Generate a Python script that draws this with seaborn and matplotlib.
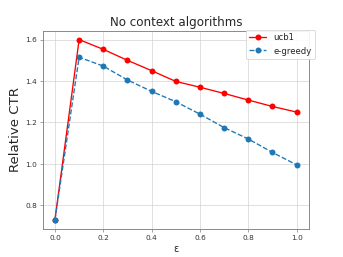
import numpy as np
import pandas as pd
import matplotlib
matplotlib.use("Agg")
import matplotlib.pyplot as plt
import seaborn as sns

# Values
epsilon = [0.0, 0.1, 0.2, 0.3, 0.4, 0.5, 0.6, 0.7, 0.8, 0.9, 1.0]
ucb1_ctr = [0.73, 1.60, 1.553, 1.50, 1.45, 1.398, 1.37, 1.34, 1.308, 1.277, 1.25]
egreedy_ctr = [0.73, 1.515, 1.472, 1.405, 1.35, 1.30, 1.24, 1.175, 1.12, 1.055, 0.995]

sns.set_style("whitegrid", {
    "axes.edgecolor": "0.5",
    "grid.color": "0.8",
    "xtick.bottom": True,
    "ytick.left": True,
})
plt.rcParams['font.family'] = ['DejaVu Sans']

fig, ax = plt.subplots(figsize=(6.4, 4.8), dpi=343 / 6.4)

sns.lineplot(x=epsilon, y=ucb1_ctr, ax=ax, color="red", marker="o",
             markersize=8, markeredgewidth=0, linewidth=1.8, label="ucb1")
sns.lineplot(x=epsilon, y=egreedy_ctr, ax=ax, color="#1f77b4", marker="o",
             markersize=8, markeredgewidth=0, linewidth=1.8, linestyle="--",
             label="e-greedy")

ax.set_title("No context algorithms", fontsize=16)
ax.set_ylabel("Relative CTR", fontsize=18)
ax.set_xlabel("ε", fontsize=13)
ax.tick_params(colors="0.2", labelsize=10, length=4, color="0.4")
ax.set_xticks([0.0, 0.2, 0.4, 0.6, 0.8, 1.0])
ax.set_yticks([0.8, 1.0, 1.2, 1.4, 1.6])
for spine in ax.spines.values():
    spine.set_linewidth(1.2)

leg = ax.legend(loc="upper right", bbox_to_anchor=(1.023, 1.005),
                borderaxespad=0, fontsize=11.5, frameon=True, framealpha=0.9)

fig.subplots_adjust(left=0.125, right=0.9, top=0.88, bottom=0.11)
fig.savefig("out.png", dpi=343 / 6.4)
